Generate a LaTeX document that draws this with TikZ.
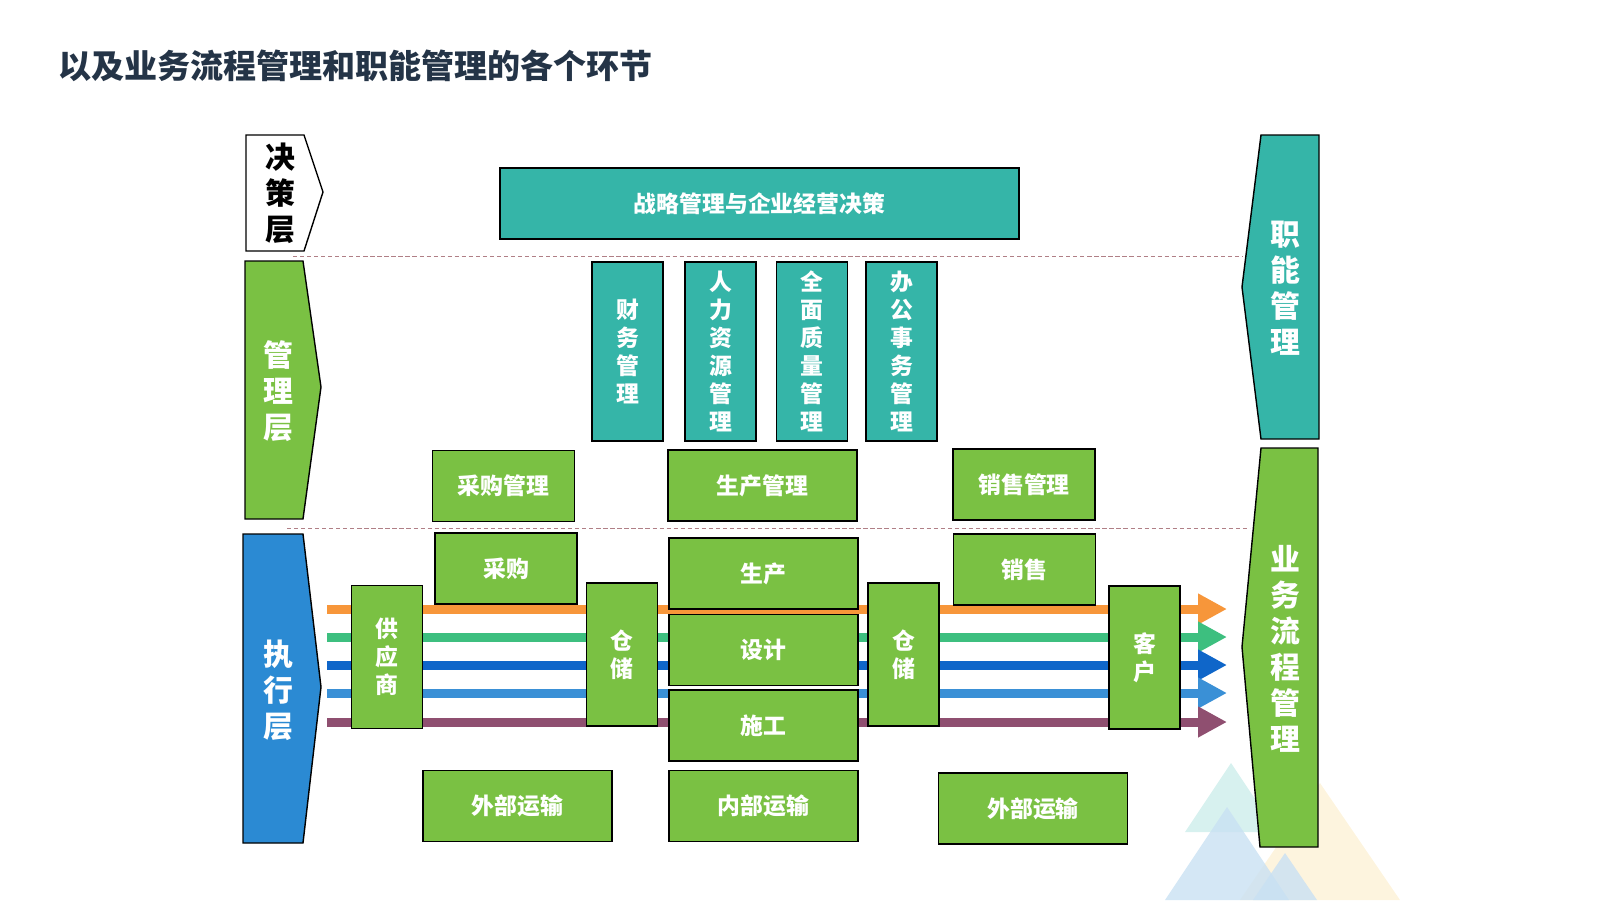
\documentclass[tikz,border=0pt]{standalone}
\usepackage{fontspec}
\setmainfont{Noto Sans CJK SC}
\usepackage{xcolor}
\definecolor{titleInk}  {HTML}{243447}
\definecolor{procGreen} {HTML}{7AC143}
\definecolor{funcTeal}  {HTML}{35B5A8}
\definecolor{execBlue}  {HTML}{2B8AD3}
\definecolor{sepLine}   {HTML}{B07F86}
\definecolor{flowOrange}{HTML}{F7963A}
\definecolor{flowGreen} {HTML}{3DBF7F}
\definecolor{flowBlue}  {HTML}{0F66C9}
\definecolor{flowSky}   {HTML}{3A90D6}
\definecolor{flowPlum}  {HTML}{8F4F70}
\definecolor{decoTeal}  {HTML}{CDEDEB}
\definecolor{decoBlue}  {HTML}{C9E1F3}
\definecolor{decoSand}  {HTML}{FDF1D6}
\usetikzlibrary{arrows.meta, positioning, calc}
\tikzset{
    box/.style={rectangle, draw=black, line width=0.8pt, inner sep=0pt,
                text=white, font=\bfseries\fontsize{13}{16}\selectfont, align=center},
    gbox/.style={box, fill=procGreen, minimum width=3.78cm, minimum height=1.42cm},
    sbox/.style={gbox, minimum width=2.84cm},
    tallbox/.style={box, fill=procGreen, minimum width=1.42cm, minimum height=2.86cm},
    tcol/.style={box, fill=funcTeal, minimum width=1.42cm, minimum height=3.58cm},
    layer/.style={draw=black, line width=0.8pt},
    layertext/.style={text=white, inner sep=0pt,
                      font=\bfseries\fontsize{17}{20.5}\selectfont, align=center},
    sepline/.style={sepLine, line width=0.5pt, dash pattern=on 2.4pt off 1.6pt},
    flow/.style={line width=1.8mm, -{Triangle[length=5.8mm, width=5.8mm]}},
    deco/.style={draw=none, fill opacity=0.8},
}

\begin{document}
\begin{tikzpicture}
    \useasboundingbox (0,0) rectangle (32,-18);
    % decorative triangles, bottom right
    \fill[deco, decoSand] (26.40,-15.66) -- (28.00,-18) -- (24.80,-18) -- cycle;
    \fill[deco, decoTeal] (24.62,-15.26) -- (25.54,-16.64) -- (23.70,-16.64) -- cycle;
    \fill[deco, decoBlue] (24.54,-16.14) -- (25.78,-18) -- (23.30,-18) -- cycle;
    \fill[deco, decoBlue] (25.70,-17.06) -- (26.34,-18) -- (25.06,-18) -- cycle;

    \node[anchor=west, inner sep=0pt, text=titleInk,
          font=\bfseries\fontsize{18.8}{22}\selectfont] (title) at (1.16,-1.32)
          {以及业务流程管理和职能管理的各个环节};

    % layer tags on the left
    \draw[layer, fill=white] (4.92,-2.70) -- (6.08,-2.70) -- (6.46,-3.84)
        -- (6.08,-5.02) -- (4.92,-5.02) -- cycle;
    \node[layertext, text=black] (decide) at (5.60,-3.86) {决\\策\\层};
    \draw[layer, fill=procGreen] (4.90,-5.22) -- (6.06,-5.22) -- (6.42,-7.74)
        -- (6.06,-10.38) -- (4.90,-10.38) -- cycle;
    \node[layertext] (manage) at (5.56,-7.82) {管\\理\\层};
    \draw[layer, fill=execBlue] (4.86,-10.68) -- (6.06,-10.68) -- (6.42,-13.74)
        -- (6.06,-16.86) -- (4.86,-16.86) -- cycle;
    \node[layertext] (execute) at (5.56,-13.80) {执\\行\\层};

    % tags on the right
    \draw[layer, fill=funcTeal] (25.22,-2.70) -- (26.38,-2.70) -- (26.38,-8.78)
        -- (25.22,-8.78) -- (24.84,-5.74) -- cycle;
    \node[layertext] (func) at (25.70,-5.76) {职\\能\\管\\理};
    \draw[layer, fill=procGreen] (25.22,-8.96) -- (26.36,-8.96) -- (26.36,-16.94)
        -- (25.20,-16.94) -- (24.84,-12.94) -- cycle;
    \node[layertext] (proc) at (25.70,-12.98) {业\\务\\流\\程\\管\\理};

    % separators
    \coordinate (sepA) at (5.86,-5.12);
    \coordinate (sepB) at (24.84,-5.12);
    \coordinate (sepC) at (5.74,-10.56);
    \coordinate (sepD) at (25.00,-10.56);
    \draw[sepline] (sepA) -- (sepB);
    \draw[sepline] (sepC) -- (sepD);

    % flow stripes (behind the boxes)
    \foreach \c/\y [count=\i] in {flowOrange/-12.18, flowGreen/-12.74,
                                  flowBlue/-13.30, flowSky/-13.86, flowPlum/-14.44} {
        \coordinate (in\i) at (6.54,\y);
        \coordinate (out\i) at (24.54,\y);
        \draw[flow, \c] (in\i) -- (out\i);
    }

    % decision level
    \node[box, fill=funcTeal, minimum width=10.38cm, minimum height=1.42cm]
        (strat) at (15.19,-4.07) {战略管理与企业经营决策};

    % functional columns
    \node[tcol] (fin) at (12.55,-7.03) {财\\务\\管\\理};
    \node[tcol] (hr)  at (14.41,-7.03) {人\\力\\资\\源\\管\\理};
    \node[tcol] (tqm) at (16.24,-7.03) {全\\面\\质\\量\\管\\理};
    \node[tcol] (off) at (18.03,-7.03) {办\\公\\事\\务\\管\\理};

    % management boxes
    \node[sbox] (buyM)  at (10.07,-9.72) {采购管理};
    \node[gbox] (prodM) at (15.25,-9.71) {生产管理};
    \node[sbox] (saleM) at (20.48,-9.69) {销售管理};

    % execution level
    \node[sbox] (buy)  at (10.12,-11.37) {采购};
    \node[gbox] (prod) at (15.27,-11.47) {生产};
    \node[gbox, below=0.08cm of prod] (design) {设计};
    \node[gbox, below=0.06cm of design] (build) {施工};
    \node[gbox, below=0.16cm of build] (inner) {内部运输};
    \node[sbox] (sale) at (20.49,-11.39) {销售};

    \node[tallbox] (supp)  at (7.74,-13.14)  {供\\应\\商};
    \node[tallbox] (store) at (12.44,-13.09) {仓\\储};
    \node[tallbox] (depot) at (18.07,-13.09) {仓\\储};
    \node[tallbox] (cust)  at (22.89,-13.15) {客\\户};

    \node[gbox] (outA) at (10.35,-16.12) {外部运输};
    \node[gbox] (outB) at (20.66,-16.17) {外部运输};
\end{tikzpicture}
\end{document}
